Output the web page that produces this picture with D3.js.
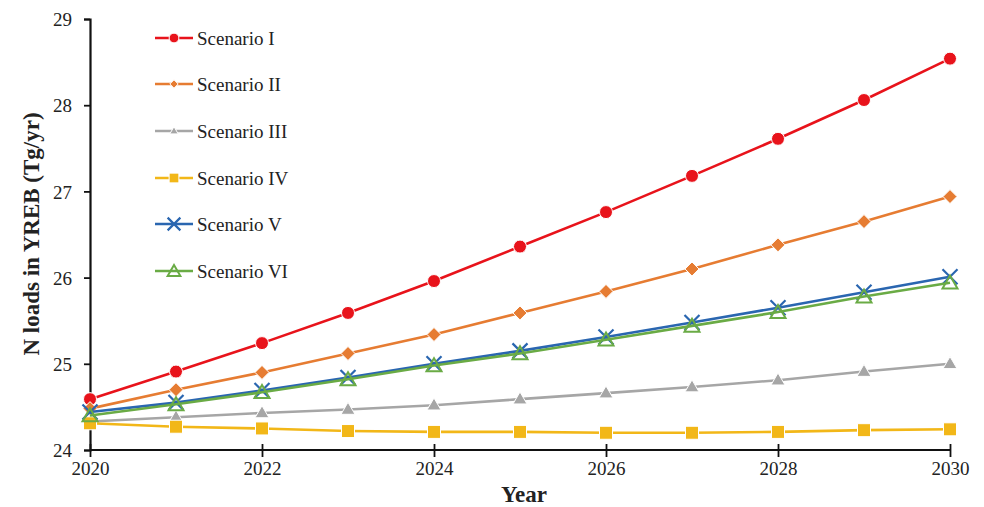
<!DOCTYPE html>
<html>
<head>
<meta charset="utf-8">
<script src="https://cdn.jsdelivr.net/npm/d3@7"></script>
<style>
  html, body { margin: 0; padding: 0; background: #fff; }
  svg text { font-family: "Liberation Serif", "Times New Roman", serif; fill: #222; }
</style>
</head>
<body>
<svg id="chart" width="984" height="507"></svg>
<script>
// Projected nitrogen loads in the YREB under six scenarios (Tg/yr)
const years = [2020, 2021, 2022, 2023, 2024, 2025, 2026, 2027, 2028, 2029, 2030];
const scenarioNames = ["Scenario I", "Scenario II", "Scenario III", "Scenario IV", "Scenario V", "Scenario VI"];
const scenarioI   = [24.59, 24.91, 25.24, 25.59, 25.96, 26.36, 26.76, 27.18, 27.61, 28.06, 28.54];
const scenarioII  = [24.48, 24.70, 24.90, 25.12, 25.34, 25.59, 25.84, 26.10, 26.38, 26.65, 26.94];
const scenarioIII = [24.33, 24.38, 24.43, 24.47, 24.52, 24.59, 24.66, 24.73, 24.81, 24.91, 25.00];
const scenarioIV  = [24.31, 24.27, 24.25, 24.22, 24.21, 24.21, 24.20, 24.20, 24.21, 24.23, 24.24];
const scenarioV   = [24.44, 24.55, 24.69, 24.84, 25.00, 25.15, 25.31, 25.48, 25.65, 25.83, 26.01];
const scenarioVI  = [24.40, 24.53, 24.67, 24.82, 24.98, 25.12, 25.28, 25.44, 25.60, 25.78, 25.94];
const xTicks = [2020, 2022, 2024, 2026, 2028, 2030];
const yTicks = [24, 25, 26, 27, 28, 29];

const styles = [
  { color: "#e8131b", marker: "circle" },
  { color: "#e67c32", marker: "diamond" },
  { color: "#a6a6a6", marker: "triangle" },
  { color: "#f2b718", marker: "square" },
  { color: "#2a66b0", marker: "cross" },
  { color: "#6aab45", marker: "openTriangle" }
];
const seriesValues = [scenarioI, scenarioII, scenarioIII, scenarioIV, scenarioV, scenarioVI];

const svg = d3.select("#chart");
const plotLeft = 90, plotRight = 950, plotTop = 19, plotBottom = 450;

const x = d3.scaleLinear().domain([2020, 2030]).range([plotLeft, plotRight]);
const y = d3.scaleLinear().domain([24, 29]).range([plotBottom, plotTop]);

// Axes
const yAxis = svg.append("g")
  .attr("transform", `translate(${plotLeft},0)`)
  .call(d3.axisLeft(y).tickValues(yTicks).tickFormat(d3.format("d")).tickSize(6).tickPadding(12));
const xAxis = svg.append("g")
  .attr("transform", `translate(0,${plotBottom})`)
  .call(d3.axisBottom(x).tickValues(xTicks).tickFormat(d3.format("d")).tickSize(6).tickPadding(6));
[yAxis, xAxis].forEach(g => {
  g.select(".domain").attr("stroke", "#111").attr("stroke-width", 2.2);
  g.selectAll(".tick line").attr("stroke", "#111").attr("stroke-width", 1.8);
  g.selectAll(".tick text")
    .style("font-family", '"Liberation Serif", "Times New Roman", serif')
    .style("font-size", "19px").attr("fill", "#222");
});
// x ticks stand above and below the axis line
xAxis.selectAll(".tick line").attr("y1", -6).attr("y2", 7);
yAxis.selectAll(".tick text").attr("dy", "0.35em");
xAxis.select(".domain").attr("d", `M${plotLeft},0H${plotRight}`);

// Axis titles
svg.append("text")
  .attr("x", 524).attr("y", 502)
  .attr("text-anchor", "middle")
  .style("font-size", "23px").style("font-weight", "bold")
  .text("Year");
svg.append("text")
  .attr("transform", "translate(39,234) rotate(-90)")
  .attr("text-anchor", "middle")
  .style("font-size", "23px").style("font-weight", "bold")
  .text("N loads in YREB (Tg/yr)");

// Marker drawing
function drawMarker(g, kind, color, cx, cy, scale) {
  const s = scale || 1;
  if (kind === "circle") {
    g.append("circle").attr("cx", cx).attr("cy", cy).attr("r", 6.5 * s)
      .attr("fill", color).attr("stroke", "#fff").attr("stroke-width", 1);
  } else if (kind === "diamond") {
    const r = 7 * s;
    g.append("path").attr("d", `M${cx},${cy - r}L${cx + r},${cy}L${cx},${cy + r}L${cx - r},${cy}Z`)
      .attr("fill", color).attr("stroke", "#fff").attr("stroke-width", 1);
  } else if (kind === "triangle") {
    const h = 12 * s, w = 14 * s;
    g.append("path").attr("d", `M${cx},${cy - h * 0.6}L${cx + w / 2},${cy + h * 0.4}L${cx - w / 2},${cy + h * 0.4}Z`)
      .attr("fill", color).attr("stroke", "#fff").attr("stroke-width", 1);
  } else if (kind === "square") {
    const a = 13 * s;
    g.append("rect").attr("x", cx - a / 2).attr("y", cy - a / 2).attr("width", a).attr("height", a)
      .attr("fill", color).attr("stroke", "#fff").attr("stroke-width", 1);
  } else if (kind === "cross") {
    const r = 7.5 * s;
    g.append("path").attr("d", `M${cx - r},${cy - r}L${cx + r},${cy + r}M${cx - r},${cy + r}L${cx + r},${cy - r}`)
      .attr("fill", "none").attr("stroke", color).attr("stroke-width", 2.2);
  } else if (kind === "openTriangle") {
    const h = 13 * s, w = 15 * s;
    g.append("path").attr("d", `M${cx},${cy - h * 0.55}L${cx + w / 2},${cy + h * 0.45}L${cx - w / 2},${cy + h * 0.45}Z`)
      .attr("fill", "none").attr("stroke", color).attr("stroke-width", 2);
  }
}

// Series lines and markers
const line = d3.line().x((d, i) => x(years[i])).y(d => y(d));
const plot = svg.append("g");
seriesValues.forEach((vals, k) => {
  const st = styles[k];
  const g = plot.append("g");
  g.append("path").datum(vals)
    .attr("d", line)
    .attr("fill", "none").attr("stroke", st.color).attr("stroke-width", 2.6);
  vals.forEach((v, i) => drawMarker(g, st.marker, st.color, x(years[i]), y(v)));
});

// Legend
const legend = svg.append("g");
const legendRows = [38, 84, 131, 178, 224, 271];
scenarioNames.forEach((name, k) => {
  const st = styles[k];
  const ly = legendRows[k];
  const g = legend.append("g");
  g.append("line").attr("x1", 155).attr("x2", 193).attr("y1", ly).attr("y2", ly)
    .attr("stroke", st.color).attr("stroke-width", 2.6);
  drawMarker(g, st.marker, st.color, 174, ly, st.marker === "circle" || st.marker === "square" ? 0.75 : (st.marker === "diamond" || st.marker === "triangle" ? 0.6 : 0.85));
  g.append("text").attr("x", 197).attr("y", ly).attr("dy", "0.35em")
    .style("font-size", "19px").text(name);
});
</script>
</body>
</html>
